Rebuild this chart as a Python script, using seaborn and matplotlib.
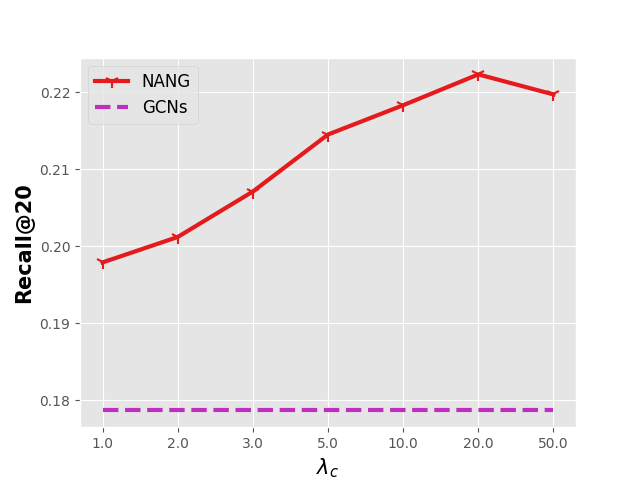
import matplotlib
matplotlib.use("Agg")
import matplotlib.pyplot as plt
import seaborn as sns
import pandas as pd

lambda_labels = ["1.0", "2.0", "3.0", "5.0", "10.0", "20.0", "50.0"]
nang_recall = [0.1979, 0.2012, 0.2071, 0.2145, 0.2183, 0.2223, 0.2197]
gcns_recall = [0.1787] * 7

plt.style.use("ggplot")
fig, ax = plt.subplots(figsize=(6.4, 4.8), dpi=100)

df = pd.DataFrame({
    "pos": list(range(len(lambda_labels))) * 2,
    "recall": nang_recall + gcns_recall,
    "model": ["NANG"] * 7 + ["GCNs"] * 7,
})

sns.lineplot(data=df[df.model == "NANG"], x="pos", y="recall", ax=ax,
             color="#e41a1c", linewidth=3, marker="1", markersize=10,
             markeredgewidth=1.5, markeredgecolor="#e41a1c", label="NANG")
sns.lineplot(data=df[df.model == "GCNs"], x="pos", y="recall", ax=ax,
             color="#bf2fbf", linewidth=3, linestyle="--", label="GCNs")

ax.set_xticks(range(len(lambda_labels)))
ax.set_xticklabels(lambda_labels)
ax.set_xlabel(r"$\lambda_c$", fontsize=15, color="black")
ax.set_ylabel("Recall@20", fontsize=15, fontweight="bold", color="black")
ax.legend(loc="upper left", fontsize=12)

fig.savefig("out.png", dpi=100)
